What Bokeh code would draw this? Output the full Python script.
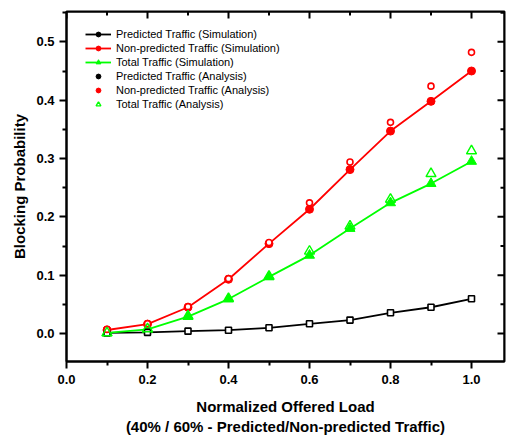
from bokeh.plotting import figure
from bokeh.models import FixedTicker, Legend, LegendItem, Range1d, ColumnDataSource, Span
from bokeh.embed import file_html
from bokeh.resources import INLINE

# ---- data ----
load = [0.1, 0.2, 0.3, 0.4, 0.5, 0.6, 0.7, 0.8, 0.9, 1.0]
pred_sim = [0.001, 0.002, 0.004, 0.0057, 0.0098, 0.0166, 0.023, 0.0355, 0.045, 0.0595]
pred_ana = [0.001, 0.002, 0.004, 0.0057, 0.0098, 0.0166, 0.023, 0.0355, 0.045, 0.0595]
nonpred_sim = [0.006, 0.016, 0.045, 0.093, 0.154, 0.213, 0.281, 0.347, 0.398, 0.450]
nonpred_ana = [0.007, 0.017, 0.046, 0.094, 0.156, 0.224, 0.294, 0.362, 0.424, 0.482]
total_sim = [0.001, 0.007, 0.029, 0.059, 0.097, 0.134, 0.180, 0.224, 0.257, 0.295]
total_ana = [0.001, 0.008, 0.030, 0.060, 0.098, 0.141, 0.184, 0.230, 0.274, 0.313]

x_ticks = [0.0, 0.2, 0.4, 0.6, 0.8, 1.0]
x_minor = [0.1, 0.3, 0.5, 0.7, 0.9]
y_ticks = [0.0, 0.1, 0.2, 0.3, 0.4, 0.5]
y_minor = [-0.05, 0.05, 0.15, 0.25, 0.35, 0.45, 0.55]

FONT = "Liberation Sans"
FW, FH = 438, 350
X0, X1 = 0.0, 438 / 405
Y0, Y1 = -0.048, 0.552

p = figure(frame_width=FW, frame_height=FH,
           x_range=Range1d(X0, X1), y_range=Range1d(Y0, Y1),
           output_backend="svg", toolbar_location=None,
           min_border_left=66, min_border_top=11, min_border_right=2, min_border_bottom=60,
           x_axis_label="Normalized Offered Load\n(40% / 60% - Predicted/Non-predicted Traffic)",
           y_axis_label="Blocking Probability")
p.grid.visible = False
p.outline_line_color = "black"
p.outline_line_width = 2
p.outline_line_alpha = 1.0
p.background_fill_color = "white"
p.border_fill_color = "white"

xt = FixedTicker(ticks=x_ticks, minor_ticks=x_minor)
yt = FixedTicker(ticks=y_ticks, minor_ticks=y_minor)

for ax in (p.xaxis[0], p.yaxis[0]):
    ax.axis_line_width = 2
    ax.major_tick_line_width = 2
    ax.minor_tick_line_width = 2
    ax.major_tick_in = 0
    ax.major_tick_out = 7
    ax.minor_tick_in = 0
    ax.minor_tick_out = 4
    ax.major_label_text_font = FONT
    ax.major_label_text_font_style = "bold"
    ax.major_label_text_font_size = "13px"
    ax.major_label_text_color = "black"
    ax.axis_label_text_font = FONT
    ax.axis_label_text_font_style = "bold"
    ax.axis_label_text_font_size = "15px"
    ax.axis_label_text_color = "black"

p.xaxis.ticker = xt
p.yaxis.ticker = yt
p.xaxis.major_label_overrides = {0.0: "0.0", 1.0: "1.0"}
p.yaxis.major_label_overrides = {0.0: "0.0"}
p.xaxis.axis_label_standoff = 11
p.yaxis.axis_label_standoff = 5
p.xaxis.major_label_standoff = 6
p.yaxis.major_label_standoff = 5

# frame edges (top / right), explicitly
p.add_layout(Span(location=Y1, dimension="width", line_color="black", line_width=2))
p.add_layout(Span(location=X1, dimension="height", line_color="black", line_width=2))

# mirrored inward ticks on the top and right frame edges
px_y = (Y1 - Y0) / FH
px_x = (X1 - X0) / FW
p.segment(x0=x_ticks, x1=x_ticks, y0=[Y1] * len(x_ticks), y1=[Y1 - 7 * px_y] * len(x_ticks),
          line_color="black", line_width=2)
p.segment(x0=x_minor, x1=x_minor, y0=[Y1] * len(x_minor), y1=[Y1 - 4 * px_y] * len(x_minor),
          line_color="black", line_width=2)
p.segment(x0=[X1] * len(y_ticks), x1=[X1 - 7 * px_x] * len(y_ticks), y0=y_ticks, y1=y_ticks,
          line_color="black", line_width=2)
p.segment(x0=[X1] * len(y_minor), x1=[X1 - 4 * px_x] * len(y_minor), y0=y_minor, y1=y_minor,
          line_color="black", line_width=2)

src = ColumnDataSource(dict(x=load, ps=pred_sim, pa=pred_ana, ns=nonpred_sim,
                            na=nonpred_ana, ts=total_sim, ta=total_ana))

# simulation lines
l_p = p.line("x", "ps", source=src, line_color="black", line_width=1.8)
l_n = p.line("x", "ns", source=src, line_color="red", line_width=1.8)
l_t = p.line("x", "ts", source=src, line_color="#00ff00", line_width=1.8)

# small dots (legend symbols), hidden beneath the plot markers
d_ps = p.scatter("x", "ps", source=src, marker="circle", size=4, fill_color="black", line_color="black")
d_ns = p.scatter("x", "ns", source=src, marker="circle", size=5, fill_color="red", line_color="red")
d_pa = p.scatter("x", "pa", source=src, marker="circle", size=4, fill_color="black", line_color="black")
d_na = p.scatter("x", "na", source=src, marker="circle", size=4, fill_color="red", line_color="red")

# simulation markers
m_n = p.scatter("x", "ns", source=src, marker="circle", size=8, fill_color="red", line_color="red")
m_t = p.scatter("x", "ts", source=src, marker="triangle", size=10, fill_color="#00ff00", line_color="#00ff00")

# analysis markers (open)
a_p = p.scatter("x", "pa", source=src, marker="square", size=6, fill_color="white", line_color="black", line_width=1.6)
a_n = p.scatter("x", "na", source=src, marker="circle", size=6, fill_color="white", line_color="red", line_width=1.6)
a_t = p.scatter("x", "ta", source=src, marker="triangle", size=10, fill_alpha=0, line_color="#00ff00", line_width=1.4)

legend = Legend(items=[
    LegendItem(label="Predicted Traffic (Simulation)", renderers=[l_p, d_ps]),
    LegendItem(label="Non-predicted Traffic (Simulation)", renderers=[l_n, d_ns]),
    LegendItem(label="Total Traffic (Simulation)", renderers=[l_t, m_t]),
    LegendItem(label="Predicted Traffic (Analysis)", renderers=[d_pa]),
    LegendItem(label="Non-predicted Traffic (Analysis)", renderers=[d_na]),
    LegendItem(label="Total Traffic (Analysis)", renderers=[a_t]),
], location=(14, 246))
legend.border_line_alpha = 0
legend.background_fill_alpha = 0
legend.padding = 5
legend.margin = 0
legend.spacing = 2
legend.glyph_width = 26
legend.glyph_height = 12
legend.label_height = 12
legend.label_standoff = 5
legend.label_text_font = FONT
legend.label_text_font_size = "11px"
legend.label_text_color = "black"
p.add_layout(legend)

open("out.html", "w").write(file_html(p, INLINE))
